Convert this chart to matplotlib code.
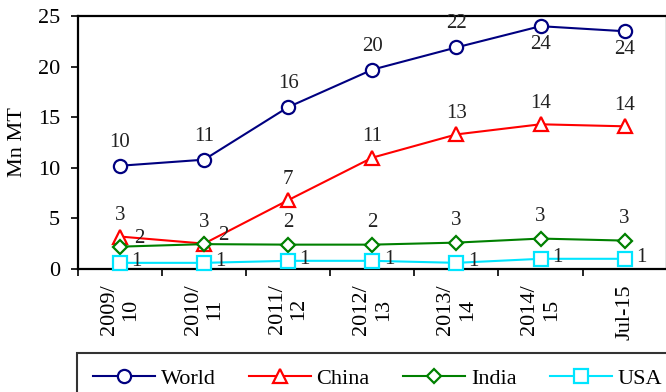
import matplotlib

matplotlib.use("Agg")
import matplotlib.pyplot as plt
import numpy as np

plt.rcParams["font.family"] = ["Liberation Serif", "DejaVu Serif"]

periods = ["2009/\n10", "2010/\n11", "2011/\n12", "2012/\n13", "2013/\n14", "2014/\n15", "Jul-15"]
world = [10.2, 10.8, 16.0, 19.7, 21.9, 24.0, 23.5]
china = [3.2, 2.5, 6.8, 11.0, 13.3, 14.3, 14.1]
india = [2.2, 2.45, 2.4, 2.4, 2.6, 3.0, 2.8]
usa = [0.6, 0.6, 0.8, 0.8, 0.6, 1.0, 1.0]


def label_of(v):
    return f"{int(np.floor(v + 0.5))}"


fig = plt.figure(figsize=(6.66, 3.92), dpi=100)
ax = fig.add_axes([0.117, 0.314, 0.884, 0.645])

x = np.arange(len(periods))
series = [
    ("World", world, "#000080", "o", 9.5),
    ("China", china, "#ff0000", "^", 9.5),
    ("India", india, "#008000", "D", 7),
    ("USA", usa, "#00e5ff", "s", 9.5),
]
for name, vals, col, mk, ms in series:
    ax.plot(x, vals, color=col, lw=1.5, marker=mk, ms=ms, mfc="white",
            mec=col, mew=1.6, label=name, clip_on=False, zorder=3)

txt = dict(fontsize=15, color="#222222", ha="center", va="center")
for i, v in enumerate(world):
    dy = 17 if i < 5 else -13
    ax.annotate(label_of(v), (i, v), xytext=(0, dy), textcoords="offset points", **txt)
for i, v in enumerate(china):
    ax.annotate(label_of(v), (i, v), xytext=(0, 15), textcoords="offset points", **txt)
for i, v in enumerate(india):
    off = (14, 6) if i < 2 else (0, 16)
    ax.annotate(label_of(v), (i, v), xytext=off, textcoords="offset points", **txt)
for i, v in enumerate(usa):
    ax.annotate(label_of(v), (i, v), xytext=(12, 1), textcoords="offset points", **txt)

ax.set_xlim(-0.5, len(periods) - 0.5)
ax.set_ylim(0, 25)
ax.set_yticks(range(0, 26, 5))
ax.set_xticks(np.arange(-0.5, len(periods)), labels=[])
ax.set_xticks(x, labels=periods, minor=True, rotation=90, va="top",
              ha="center", multialignment="center")
ax.tick_params(axis="x", which="minor", length=0, pad=11, labelsize=16)
ax.tick_params(axis="x", which="major", length=5, width=1.2, direction="out")
ax.tick_params(axis="y", length=5, width=1.2, direction="out", labelsize=16, pad=8)
ax.set_ylabel("Mn MT", fontsize=16, labelpad=8)
for s in ax.spines.values():
    s.set_linewidth(1.6)

leg = fig.legend(loc="upper left", bbox_to_anchor=(0.116, 0.1), ncol=4,
                 fontsize=16, frameon=True, fancybox=False, edgecolor="black",
                 handlelength=2.8, columnspacing=1.5, borderpad=0.7,
                 borderaxespad=0, handletextpad=0.25)
leg.get_frame().set_linewidth(1.5)

fig.savefig("out.png", dpi=100)
